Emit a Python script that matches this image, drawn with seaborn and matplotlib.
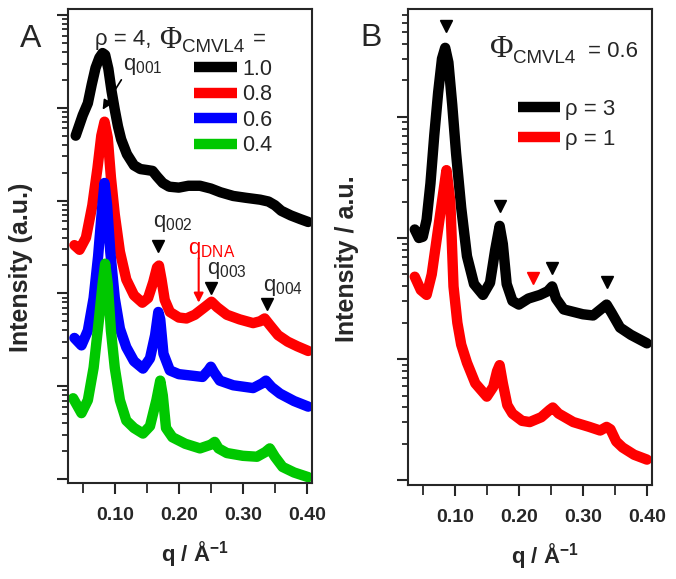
import numpy as np
import pandas as pd
import matplotlib.pyplot as plt
import seaborn as sns
from matplotlib.lines import Line2D
from matplotlib.ticker import LogLocator, NullFormatter, MultipleLocator, FormatStrFormatter

sns.set_style("ticks")
plt.rcParams['font.family'] = ['Liberation Sans', 'DejaVu Sans']
plt.rcParams['mathtext.fontset'] = 'custom'
plt.rcParams['mathtext.rm'] = 'Liberation Sans'
plt.rcParams['mathtext.bf'] = 'Liberation Sans:bold'

# ---- panel A data: q (1/A) and log10 intensity (a.u.) ----
q_a10 = [0.039, 0.045, 0.050, 0.058, 0.064, 0.070, 0.076, 0.081, 0.085, 0.090, 0.095, 0.100, 0.105,
         0.110, 0.119, 0.130, 0.140, 0.150, 0.159, 0.166, 0.175, 0.185, 0.200, 0.215, 0.233, 0.250,
         0.265, 0.285, 0.305, 0.327, 0.340, 0.350, 0.360, 0.375, 0.390, 0.402]
lg_a10 = [3.70, 3.82, 3.92, 4.05, 4.25, 4.43, 4.54, 4.59, 4.57, 4.42, 4.18, 3.98, 3.80,
          3.66, 3.50, 3.38, 3.34, 3.33, 3.32, 3.26, 3.19, 3.15, 3.14, 3.16, 3.16, 3.13,
          3.09, 3.05, 3.03, 3.01, 2.99, 2.95, 2.89, 2.84, 2.80, 2.77]

q_a08 = [0.037, 0.045, 0.055, 0.065, 0.073, 0.079, 0.084, 0.089, 0.094, 0.100, 0.108, 0.118, 0.130,
         0.143, 0.152, 0.160, 0.166, 0.169, 0.173, 0.178, 0.186, 0.200, 0.212, 0.225, 0.240, 0.251,
         0.260, 0.275, 0.295, 0.316, 0.327, 0.334, 0.342, 0.355, 0.370, 0.385, 0.402]
lg_a08 = [2.52, 2.47, 2.60, 2.95, 3.35, 3.70, 3.85, 3.68, 3.25, 2.85, 2.45, 2.15, 1.98,
          1.90, 1.95, 2.12, 2.28, 2.30, 2.15, 1.93, 1.80, 1.74, 1.73, 1.77, 1.85, 1.91,
          1.85, 1.77, 1.72, 1.68, 1.70, 1.73, 1.66, 1.55, 1.48, 1.43, 1.38]

q_a06 = [0.037, 0.048, 0.058, 0.067, 0.074, 0.080, 0.084, 0.088, 0.093, 0.100, 0.108, 0.118, 0.130,
         0.144, 0.155, 0.163, 0.168, 0.171, 0.176, 0.186, 0.200, 0.2125, 0.225, 0.237, 0.246, 0.250,
         0.255, 0.264, 0.285, 0.316, 0.330, 0.336, 0.345, 0.358, 0.380, 0.402]
lg_a06 = [1.52, 1.44, 1.60, 1.95, 2.40, 2.90, 3.19, 2.95, 2.45, 1.95, 1.62, 1.42, 1.27,
          1.19, 1.30, 1.55, 1.80, 1.72, 1.35, 1.17, 1.13, 1.12, 1.11, 1.10, 1.17, 1.21,
          1.15, 1.06, 1.01, 0.98, 1.03, 1.06, 0.99, 0.92, 0.84, 0.78]

q_a04 = [0.035, 0.048, 0.058, 0.067, 0.075, 0.081, 0.085, 0.089, 0.094, 0.100, 0.108, 0.118, 0.130,
         0.144, 0.155, 0.165, 0.171, 0.175, 0.180, 0.190, 0.210, 0.233, 0.250, 0.256, 0.262, 0.275,
         0.300, 0.322, 0.335, 0.342, 0.350, 0.362, 0.380, 0.402]
lg_a04 = [0.87, 0.71, 0.85, 1.20, 1.70, 2.10, 2.32, 2.10, 1.60, 1.20, 0.85, 0.63, 0.55,
          0.49, 0.57, 0.85, 1.06, 0.90, 0.55, 0.45, 0.38, 0.33, 0.37, 0.40, 0.33, 0.28,
          0.25, 0.24, 0.29, 0.33, 0.24, 0.13, 0.07, 0.02]

labels_a = ['1.0', '0.8', '0.6', '0.4']
colors_a = ['#000000', '#ff0000', '#0000ff', '#00c800']

# ---- panel B data ----
q_b3 = [0.0375, 0.044, 0.050, 0.056, 0.062, 0.068, 0.074, 0.080, 0.085, 0.090, 0.096, 0.102, 0.110,
        0.119, 0.130, 0.144, 0.155, 0.163, 0.170, 0.175, 0.181, 0.190, 0.200, 0.215, 0.233, 0.245,
        0.252, 0.258, 0.270, 0.300, 0.316, 0.330, 0.337, 0.345, 0.358, 0.375, 0.400]
lg_b3 = [2.07, 2.00, 2.01, 2.15, 2.45, 2.85, 3.20, 3.48, 3.57, 3.45, 3.10, 2.70, 2.25,
         1.85, 1.62, 1.53, 1.63, 1.90, 2.10, 1.95, 1.62, 1.48, 1.45, 1.50, 1.53, 1.56,
         1.60, 1.50, 1.41, 1.37, 1.36, 1.42, 1.45, 1.38, 1.26, 1.20, 1.13]

q_b1 = [0.0375, 0.047, 0.056, 0.064, 0.072, 0.080, 0.087, 0.093, 0.098, 0.104, 0.110, 0.119, 0.132,
        0.150, 0.160, 0.166, 0.170, 0.175, 0.182, 0.190, 0.205, 0.217, 0.235, 0.248, 0.253, 0.262,
        0.285, 0.310, 0.327, 0.337, 0.343, 0.352, 0.362, 0.380, 0.400]
lg_b1 = [1.68, 1.57, 1.53, 1.70, 2.00, 2.30, 2.56, 2.30, 1.60, 1.30, 1.12, 0.97, 0.80,
         0.69, 0.77, 0.90, 0.95, 0.80, 0.62, 0.55, 0.49, 0.48, 0.52, 0.58, 0.60, 0.55,
         0.48, 0.44, 0.41, 0.44, 0.42, 0.32, 0.27, 0.21, 0.17]

labels_b = ['ρ = 3', 'ρ = 1']
colors_b = ['#000000', '#ff0000']

# peak marker positions (q, log10 I)
mark_a_q = [0.167, 0.25, 0.3375]
mark_a_lg = [2.51, 2.06, 1.89]
mark_b_q = [0.086, 0.170, 0.251, 0.3375]
mark_b_lg = [3.75, 2.26, 1.75, 1.64]
mark_b_red_q = [0.222]
mark_b_red_lg = [1.67]

df_a = pd.concat([
    pd.DataFrame({'q': q, 'I': 10 ** np.array(lg), 'phi': lab})
    for q, lg, lab in zip([q_a10, q_a08, q_a06, q_a04], [lg_a10, lg_a08, lg_a06, lg_a04], labels_a)
])
df_b = pd.concat([
    pd.DataFrame({'q': q, 'I': 10 ** np.array(lg), 'rho': lab})
    for q, lg, lab in zip([q_b3, q_b1], [lg_b3, lg_b1], labels_b)
])

fig = plt.figure(figsize=(6.76, 5.79), dpi=100)
ax1 = fig.add_axes([0.1006, 0.1658, 0.361, 0.8187])
ax2 = fig.add_axes([0.6036, 0.1623, 0.361, 0.822])

LW = 7.5
sns.lineplot(data=df_a, x='q', y='I', hue='phi', hue_order=labels_a, palette=colors_a,
             estimator=None, sort=False, legend=False, linewidth=LW, ax=ax1,
             solid_capstyle='round', solid_joinstyle='round')
sns.lineplot(data=df_b, x='q', y='I', hue='rho', hue_order=labels_b, palette=colors_b,
             estimator=None, sort=False, legend=False, linewidth=LW, ax=ax2,
             solid_capstyle='round', solid_joinstyle='round')

for ax in (ax1, ax2):
    ax.set_yscale('log')
    ax.set_xlim(0.027, 0.408)
    ax.xaxis.set_major_locator(MultipleLocator(0.1))
    ax.xaxis.set_minor_locator(MultipleLocator(0.05))
    ax.xaxis.set_major_formatter(FormatStrFormatter('%.2f'))
    ax.yaxis.set_major_locator(LogLocator(base=10, numticks=20))
    ax.yaxis.set_minor_locator(LogLocator(base=10, subs=np.arange(2, 10), numticks=20))
    ax.yaxis.set_major_formatter(NullFormatter())
    ax.yaxis.set_minor_formatter(NullFormatter())
    ax.tick_params(which='major', direction='out', length=8, width=1.5, pad=9)
    ax.tick_params(which='minor', direction='out', length=4.5, width=1.3)
    ax.tick_params(axis='x', which='minor', length=7)
    for lab in ax.get_xticklabels():
        lab.set_fontweight('bold')
        lab.set_fontsize(14)
    for s in ax.spines.values():
        s.set_linewidth(1.5)
        s.set_visible(True)

ax1.set_ylim(10 ** -0.043, 10 ** 5.065)
ax2.set_ylim(10 ** -0.04, 10 ** 3.89)

ax1.set_xlabel(r'q / Å$^{\mathbf{-1}}$', fontsize=16, fontweight='bold')
ax2.set_xlabel(r'q / Å$^{\mathbf{-1}}$', fontsize=16, fontweight='bold')
ax1.xaxis.set_label_coords(0.52, -0.118)
ax2.xaxis.set_label_coords(0.56, -0.118)
ax1.set_ylabel('Intensity (a.u.)', fontsize=18, fontweight='bold')
ax2.set_ylabel('Intensity / a.u.', fontsize=18, fontweight='bold')
ax1.yaxis.set_label_coords(-0.145, 0.456)
ax2.yaxis.set_label_coords(-0.2, 0.475)

# legends
h_a = [Line2D([], [], color=c, lw=LW, solid_capstyle='butt') for c in colors_a]
ax1.legend(h_a, labels_a, loc='upper left', bbox_to_anchor=(0.516, 0.895), frameon=False,
           fontsize=15.5, handlelength=2.0, handletextpad=0.25, labelspacing=0.21, borderpad=0,
           borderaxespad=0)
h_b = [Line2D([], [], color=c, lw=LW, solid_capstyle='butt') for c in colors_b]
ax2.legend(h_b, labels_b, loc='upper left', bbox_to_anchor=(0.451, 0.812), frameon=False,
           fontsize=16, handlelength=1.9, handletextpad=0.2, labelspacing=0.42, borderpad=0,
           borderaxespad=0)

# header texts (Phi drawn in a serif face, subscript nearly full size)
serif = ['Liberation Serif', 'DejaVu Serif']
ax1.text(0.111, 0.924, 'ρ = 4,', transform=ax1.transAxes, fontsize=16, ha='left', va='baseline')
ax1.text(0.418, 0.9325, 'Φ', transform=ax1.transAxes, fontsize=22, family=serif,
         ha='center', va='center')
ax1.text(0.467, 0.909, 'CMVL4', transform=ax1.transAxes, fontsize=13.5, ha='left', va='baseline')
ax1.text(0.758, 0.924, '=', transform=ax1.transAxes, fontsize=16, ha='left', va='baseline')

ax2.text(0.385, 0.916, 'Φ', transform=ax2.transAxes, fontsize=23, family=serif,
         ha='center', va='center')
ax2.text(0.430, 0.887, 'CMVL4', transform=ax2.transAxes, fontsize=13.5, ha='left', va='baseline')
ax2.text(0.738, 0.899, '= 0.6', transform=ax2.transAxes, fontsize=16, ha='left', va='baseline')

fig.text(31 / 676, 1 - 39 / 579, 'A', fontsize=23, ha='center', va='center')
fig.text(371 / 676, 1 - 38 / 579, 'B', fontsize=23, ha='center', va='center')

# peak markers
ax1.plot(mark_a_q, 10 ** np.array(mark_a_lg), 'v', color='k', ms=8, ls='none')
ax2.plot(mark_b_q, 10 ** np.array(mark_b_lg), 'v', color='k', ms=8, ls='none')
ax2.plot(mark_b_red_q, 10 ** np.array(mark_b_red_lg), 'v', color='r', ms=8, ls='none')

# peak labels panel A
ax1.annotate(r'q$_{001}$', xy=(0.081, 10 ** 3.98), xytext=(0.1125, 10 ** 4.45),
             fontsize=16, ha='left', va='center',
             arrowprops=dict(arrowstyle='-|>', color='k', lw=1.2, relpos=(0.05, 0.1),
                             shrinkA=0, shrinkB=0, mutation_scale=14))
ax1.text(0.159, 10 ** 2.75, r'q$_{002}$', fontsize=16, ha='left', va='center')
ax1.text(0.244, 10 ** 2.25, r'q$_{003}$', fontsize=16, ha='left', va='center')
ax1.text(0.331, 10 ** 2.06, r'q$_{004}$', fontsize=16, ha='left', va='center')
ax1.text(0.214, 10 ** 2.46, r'q$_{\mathrm{DNA}}$', fontsize=16, ha='left', va='center', color='r')
ax1.annotate('', xy=(0.231, 10 ** 1.90), xytext=(0.231, 10 ** 2.38),
             arrowprops=dict(arrowstyle='-|>', color='r', lw=1.5, shrinkA=0, shrinkB=0,
                             mutation_scale=14))

fig.savefig('out.png', dpi=100)
